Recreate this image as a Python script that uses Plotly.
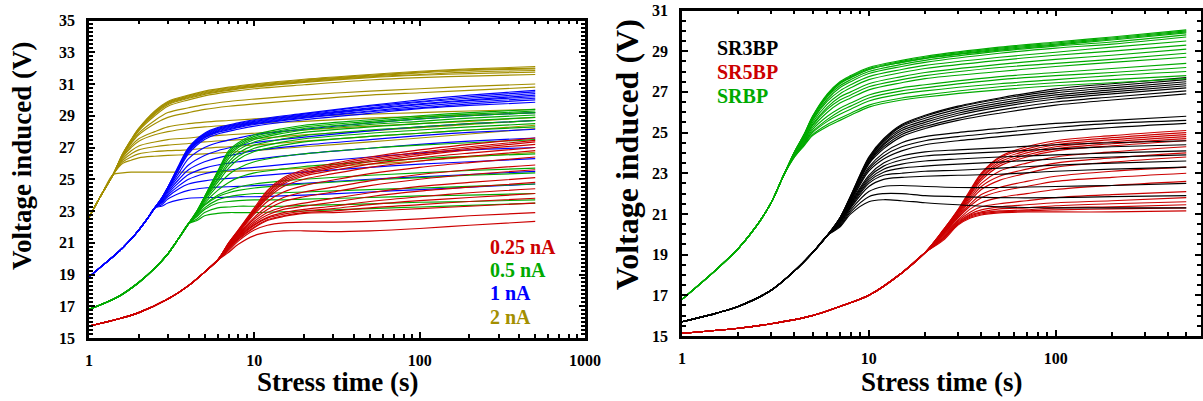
import plotly.graph_objects as go

# ---------------- data ----------------
# Left panel: stress current groups
L_RED_RISE_T = [1, 1.5, 2, 3, 4, 5, 6]
L_RED_RISE_V = [15.75, 16.2, 16.6, 17.45, 18.3, 19.15, 19.9]
L_RED_TAIL_T = [7, 8, 10, 12, 15, 20, 30, 50, 100, 200, 500]
L_RED_TAILS = [
    [21.0, 21.8, 23.2, 24.3, 25.1, 25.6, 26.0, 26.4, 26.85, 27.2, 27.6],
    [21.0, 21.8, 23.1, 24.2, 25.0, 25.5, 25.9, 26.3, 26.7, 27.05, 27.45],
    [21.0, 21.75, 23.05, 24.1, 24.9, 25.4, 25.8, 26.2, 26.6, 26.95, 27.35],
    [20.95, 21.7, 23.0, 24.0, 24.8, 25.3, 25.7, 26.1, 26.5, 26.85, 27.2],
    [20.95, 21.7, 22.95, 23.9, 24.7, 25.2, 25.55, 25.95, 26.35, 26.65, 27.0],
    [20.9, 21.65, 22.9, 23.8, 24.55, 25.0, 25.35, 25.75, 26.15, 26.45, 26.8],
    [20.9, 21.6, 22.8, 23.6, 24.2, 24.6, 24.95, 25.35, 25.75, 26.05, 26.4],
    [20.85, 21.55, 22.6, 23.3, 23.85, 24.2, 24.5, 24.9, 25.3, 25.6, 25.9],
    [20.8, 21.5, 22.5, 23.1, 23.6, 23.9, 24.2, 24.6, 25.0, 25.3, 25.6],
    [20.8, 21.45, 22.35, 22.9, 23.25, 23.5, 23.8, 24.15, 24.55, 24.8, 25.1],
    [20.75, 21.4, 22.25, 22.75, 23.1, 23.3, 23.55, 23.9, 24.25, 24.5, 24.8],
    [20.7, 21.35, 22.15, 22.6, 22.9, 23.1, 23.3, 23.6, 23.9, 24.15, 24.4],
    [20.7, 21.3, 22.1, 22.55, 22.8, 23.0, 23.15, 23.4, 23.65, 23.85, 24.1],
    [20.65, 21.25, 22.0, 22.45, 22.7, 22.9, 23.0, 23.2, 23.4, 23.6, 23.8],
    [20.6, 21.2, 21.95, 22.4, 22.65, 22.85, 22.9, 23.0, 23.15, 23.3, 23.5],
    [20.5, 21.1, 21.8, 22.1, 22.25, 22.3, 22.3, 22.35, 22.5, 22.7, 22.9],
    [20.4, 20.9, 21.45, 21.65, 21.75, 21.75, 21.7, 21.75, 21.9, 22.1, 22.35],
]

L_GRN_RISE_T = [1, 1.5, 2, 2.5, 3, 3.5, 4]
L_GRN_RISE_V = [16.8, 17.6, 18.5, 19.4, 20.3, 21.3, 22.2]
L_GRN_TAIL_T = [4.5, 5, 6, 7, 8, 10, 15, 20, 50, 100, 200, 500]
L_GRN_TAILS = [
    [23.0, 23.9, 25.5, 26.8, 27.3, 27.8, 28.2, 28.4, 28.75, 29.0, 29.2, 29.4],
    [23.0, 23.9, 25.45, 26.7, 27.2, 27.7, 28.1, 28.3, 28.65, 28.9, 29.1, 29.3],
    [23.0, 23.85, 25.4, 26.6, 27.1, 27.6, 28.0, 28.2, 28.55, 28.8, 29.0, 29.2],
    [23.0, 23.85, 25.3, 26.45, 27.0, 27.5, 27.9, 28.1, 28.45, 28.65, 28.85, 29.05],
    [22.95, 23.8, 25.2, 26.3, 26.85, 27.35, 27.75, 27.95, 28.3, 28.5, 28.7, 28.9],
    [22.95, 23.8, 25.05, 26.1, 26.65, 27.15, 27.55, 27.75, 28.1, 28.3, 28.5, 28.7],
    [22.95, 23.75, 24.95, 25.9, 26.45, 26.95, 27.35, 27.55, 27.9, 28.1, 28.3, 28.5],
    [22.9, 23.7, 24.8, 25.7, 26.25, 26.75, 27.15, 27.35, 27.7, 27.9, 28.1, 28.3],
    [22.9, 23.6, 24.6, 25.3, 25.7, 26.1, 26.45, 26.6, 26.95, 27.15, 27.3, 27.5],
    [22.85, 23.5, 24.3, 24.8, 25.1, 25.4, 25.65, 25.8, 26.1, 26.3, 26.45, 26.6],
    [22.8, 23.4, 24.0, 24.3, 24.5, 24.7, 24.9, 25.0, 25.25, 25.4, 25.55, 25.7],
    [22.8, 23.35, 23.9, 24.15, 24.3, 24.45, 24.6, 24.7, 24.95, 25.1, 25.25, 25.4],
    [22.7, 23.2, 23.7, 23.9, 24.0, 24.1, 24.15, 24.2, 24.35, 24.45, 24.55, 24.7],
    [22.65, 23.1, 23.5, 23.6, 23.65, 23.7, 23.7, 23.75, 23.85, 23.95, 24.0, 24.1],
    [22.5, 22.9, 23.2, 23.25, 23.3, 23.3, 23.3, 23.35, 23.45, 23.55, 23.6, 23.7],
    [22.4, 22.7, 22.85, 22.9, 22.9, 22.9, 22.95, 23.0, 23.15, 23.25, 23.35, 23.5],
]

L_BLU_RISE_T = [1, 1.25, 1.5, 1.75, 2, 2.25, 2.5]
L_BLU_RISE_V = [18.85, 19.7, 20.4, 21.1, 21.8, 22.5, 23.2]
L_BLU_TAIL_T = [2.75, 3, 3.5, 4, 5, 6, 8, 10, 20, 50, 100, 200, 500]
L_BLU_TAILS = [
    [23.8, 24.5, 25.9, 27.0, 27.9, 28.25, 28.55, 28.75, 29.15, 29.65, 30.0, 30.3, 30.6],
    [23.8, 24.5, 25.85, 26.95, 27.85, 28.2, 28.5, 28.7, 29.1, 29.6, 29.9, 30.2, 30.5],
    [23.8, 24.5, 25.8, 26.9, 27.8, 28.15, 28.45, 28.65, 29.05, 29.5, 29.85, 30.1, 30.4],
    [23.8, 24.5, 25.8, 26.85, 27.75, 28.1, 28.4, 28.6, 29.0, 29.45, 29.75, 30.0, 30.3],
    [23.8, 24.45, 25.75, 26.8, 27.7, 28.05, 28.35, 28.55, 28.95, 29.4, 29.7, 29.95, 30.2],
    [23.8, 24.45, 25.7, 26.75, 27.65, 28.0, 28.3, 28.5, 28.9, 29.3, 29.6, 29.85, 30.1],
    [23.75, 24.4, 25.65, 26.7, 27.6, 27.95, 28.25, 28.45, 28.85, 29.25, 29.5, 29.75, 30.0],
    [23.75, 24.4, 25.6, 26.6, 27.5, 27.85, 28.15, 28.35, 28.75, 29.15, 29.45, 29.65, 29.85],
    [23.7, 24.35, 25.4, 26.3, 27.0, 27.3, 27.6, 27.8, 28.15, 28.55, 28.8, 29.0, 29.2],
    [23.7, 24.3, 25.2, 25.9, 26.5, 26.8, 27.1, 27.3, 27.65, 28.05, 28.3, 28.5, 28.7],
    [23.65, 24.2, 25.0, 25.6, 26.1, 26.35, 26.6, 26.8, 27.15, 27.5, 27.75, 27.95, 28.15],
    [23.6, 24.1, 24.8, 25.3, 25.7, 25.9, 26.1, 26.25, 26.6, 26.95, 27.2, 27.4, 27.6],
    [23.55, 24.0, 24.6, 25.0, 25.35, 25.5, 25.65, 25.75, 26.05, 26.4, 26.65, 26.85, 27.0],
    [23.5, 23.9, 24.4, 24.7, 24.9, 25.0, 25.1, 25.2, 25.45, 25.75, 25.95, 26.1, 26.3],
    [23.4, 23.75, 24.1, 24.3, 24.45, 24.5, 24.55, 24.6, 24.75, 25.0, 25.15, 25.3, 25.5],
    [23.3, 23.5, 23.7, 23.8, 23.85, 23.85, 23.9, 23.9, 24.0, 24.2, 24.35, 24.5, 24.7],
]

L_OLV_RISE_T = [1, 1.2, 1.4]
L_OLV_RISE_V = [22.6, 24.1, 25.3]
L_OLV_TAIL_T = [1.6, 1.8, 2, 2.5, 3, 4, 5, 7, 10, 20, 50, 100, 200, 500]
L_OLV_TAILS = [
    [26.6, 27.5, 28.2, 29.3, 29.9, 30.3, 30.55, 30.8, 31.0, 31.3, 31.6, 31.8, 31.95, 32.1],
    [26.6, 27.5, 28.2, 29.25, 29.85, 30.25, 30.5, 30.75, 30.95, 31.25, 31.55, 31.75, 31.9, 32.0],
    [26.6, 27.45, 28.15, 29.2, 29.8, 30.2, 30.45, 30.7, 30.9, 31.2, 31.5, 31.7, 31.85, 31.95],
    [26.6, 27.45, 28.15, 29.15, 29.75, 30.15, 30.4, 30.65, 30.85, 31.15, 31.45, 31.6, 31.75, 31.85],
    [26.55, 27.4, 28.1, 29.1, 29.7, 30.1, 30.35, 30.6, 30.8, 31.1, 31.4, 31.55, 31.65, 31.75],
    [26.55, 27.4, 28.05, 29.0, 29.6, 30.0, 30.25, 30.5, 30.7, 30.95, 31.25, 31.4, 31.5, 31.6],
    [26.5, 27.3, 27.9, 28.7, 29.2, 29.5, 29.7, 29.9, 30.05, 30.3, 30.55, 30.7, 30.85, 31.0],
    [26.5, 27.25, 27.8, 28.5, 28.9, 29.2, 29.4, 29.6, 29.75, 30.0, 30.3, 30.45, 30.6, 30.8],
    [26.45, 27.1, 27.55, 28.0, 28.3, 28.5, 28.6, 28.7, 28.8, 28.95, 29.1, 29.2, 29.3, 29.4],
    [26.4, 27.0, 27.4, 27.8, 28.0, 28.2, 28.3, 28.4, 28.5, 28.65, 28.85, 28.95, 29.05, 29.2],
    [26.3, 26.8, 27.1, 27.35, 27.5, 27.6, 27.7, 27.8, 27.9, 28.1, 28.35, 28.5, 28.65, 28.9],
    [26.2, 26.6, 26.85, 27.05, 27.15, 27.25, 27.35, 27.45, 27.55, 27.8, 28.05, 28.25, 28.45, 28.7],
    [26.1, 26.4, 26.6, 26.75, 26.8, 26.85, 26.95, 27.05, 27.15, 27.4, 27.7, 27.9, 28.1, 28.4],
    [26.0, 26.2, 26.35, 26.45, 26.5, 26.55, 26.6, 26.7, 26.8, 27.05, 27.35, 27.6, 27.85, 28.2],
    [25.4, 25.45, 25.45, 25.45, 25.45, 25.45, 25.45, 25.5, 25.55, 25.7, 25.95, 26.15, 26.4, 26.7],
]

# Right panel: structures
R_GRN_RISE_T = [1, 1.5, 2, 2.5, 3, 3.5]
R_GRN_RISE_V = [16.8, 18.2, 19.3, 20.4, 21.55, 22.9]
R_GRN_TAIL_T = [4, 4.5, 5, 6, 7, 8, 10, 15, 20, 50, 100, 200, 500]
R_GRN_TAILS = [
    [24.05, 24.9, 25.8, 26.9, 27.5, 27.8, 28.2, 28.55, 28.75, 29.2, 29.45, 29.7, 30.05],
    [24.05, 24.9, 25.8, 26.85, 27.45, 27.75, 28.15, 28.5, 28.7, 29.15, 29.4, 29.65, 30.0],
    [24.05, 24.9, 25.75, 26.85, 27.45, 27.7, 28.1, 28.45, 28.65, 29.1, 29.35, 29.6, 29.95],
    [24.05, 24.85, 25.75, 26.8, 27.4, 27.7, 28.1, 28.45, 28.65, 29.05, 29.3, 29.55, 29.9],
    [24.0, 24.85, 25.7, 26.75, 27.3, 27.6, 28.0, 28.35, 28.55, 29.0, 29.25, 29.45, 29.8],
    [24.0, 24.8, 25.65, 26.65, 27.2, 27.5, 27.9, 28.25, 28.45, 28.9, 29.15, 29.35, 29.7],
    [24.0, 24.75, 25.6, 26.55, 27.05, 27.35, 27.75, 28.1, 28.3, 28.7, 28.95, 29.2, 29.5],
    [23.95, 24.7, 25.5, 26.4, 26.9, 27.2, 27.6, 27.95, 28.15, 28.55, 28.8, 29.0, 29.3],
    [23.95, 24.65, 25.4, 26.25, 26.75, 27.0, 27.4, 27.75, 27.95, 28.35, 28.6, 28.8, 29.1],
    [23.95, 24.6, 25.35, 26.15, 26.6, 26.85, 27.25, 27.6, 27.8, 28.2, 28.4, 28.6, 28.9],
    [23.9, 24.55, 25.25, 26.0, 26.45, 26.7, 27.1, 27.45, 27.65, 28.0, 28.25, 28.45, 28.7],
    [23.9, 24.5, 25.15, 25.8, 26.2, 26.45, 26.85, 27.2, 27.35, 27.75, 27.95, 28.15, 28.4],
    [23.85, 24.45, 25.05, 25.65, 26.05, 26.3, 26.7, 27.05, 27.2, 27.6, 27.8, 27.95, 28.2],
    [23.85, 24.45, 25.0, 25.55, 25.9, 26.15, 26.55, 26.9, 27.05, 27.4, 27.6, 27.8, 28.0],
    [23.8, 24.4, 24.9, 25.4, 25.7, 25.95, 26.35, 26.7, 26.85, 27.25, 27.45, 27.6, 27.8],
    [23.8, 24.35, 24.85, 25.3, 25.6, 25.85, 26.25, 26.6, 26.75, 27.1, 27.3, 27.45, 27.65],
]

R_BLK_RISE_T = [1, 1.5, 2, 3, 4, 5, 6]
R_BLK_RISE_V = [15.7, 16.1, 16.45, 17.25, 18.2, 19.1, 19.95]
R_BLK_TAIL_T = [7, 8, 10, 12, 15, 20, 30, 50, 100, 200, 500]
R_BLK_TAILS = [
    [20.8, 21.9, 23.8, 24.7, 25.4, 25.85, 26.3, 26.7, 27.15, 27.4, 27.7],
    [20.8, 21.9, 23.75, 24.65, 25.35, 25.8, 26.25, 26.65, 27.05, 27.3, 27.6],
    [20.8, 21.85, 23.7, 24.6, 25.3, 25.7, 26.15, 26.55, 26.95, 27.2, 27.5],
    [20.8, 21.85, 23.65, 24.55, 25.2, 25.6, 26.05, 26.45, 26.85, 27.1, 27.4],
    [20.8, 21.8, 23.6, 24.45, 25.1, 25.5, 25.95, 26.35, 26.75, 27.0, 27.3],
    [20.75, 21.8, 23.55, 24.4, 25.0, 25.4, 25.85, 26.25, 26.65, 26.9, 27.2],
    [20.75, 21.75, 23.5, 24.3, 24.9, 25.3, 25.7, 26.1, 26.5, 26.75, 27.05],
    [20.75, 21.75, 23.45, 24.2, 24.8, 25.2, 25.6, 25.95, 26.35, 26.6, 26.9],
    [20.7, 21.7, 23.3, 24.0, 24.5, 24.8, 25.0, 25.2, 25.45, 25.6, 25.8],
    [20.7, 21.65, 23.2, 23.85, 24.3, 24.6, 24.8, 25.0, 25.25, 25.45, 25.6],
    [20.7, 21.6, 23.1, 23.7, 24.1, 24.4, 24.6, 24.8, 25.05, 25.25, 25.45],
    [20.65, 21.55, 22.9, 23.5, 23.85, 24.05, 24.15, 24.25, 24.4, 24.5, 24.6],
    [20.65, 21.5, 22.8, 23.35, 23.65, 23.85, 23.95, 24.05, 24.2, 24.3, 24.4],
    [20.6, 21.45, 22.7, 23.2, 23.45, 23.6, 23.7, 23.8, 23.9, 24.0, 24.1],
    [20.6, 21.4, 22.6, 23.05, 23.25, 23.35, 23.45, 23.55, 23.7, 23.8, 23.9],
    [20.55, 21.35, 22.5, 22.9, 23.0, 23.1, 23.15, 23.25, 23.4, 23.5, 23.6],
    [20.5, 21.3, 22.35, 22.7, 22.8, 22.85, 22.9, 22.95, 23.1, 23.2, 23.3],
    [20.45, 21.2, 22.1, 22.35, 22.4, 22.35, 22.3, 22.3, 22.35, 22.4, 22.5],
    [20.4, 21.1, 21.85, 22.0, 22.0, 21.9, 21.85, 21.8, 21.8, 21.85, 21.9],
    [20.35, 21.0, 21.6, 21.7, 21.65, 21.55, 21.45, 21.35, 21.3, 21.3, 21.3],
]

R_RED_RISE_T = [1, 2, 3, 5, 7, 10, 15, 20]
R_RED_RISE_V = [15.13, 15.38, 15.6, 16.0, 16.45, 17.0, 18.1, 19.1]
R_RED_TAIL_T = [25, 30, 35, 40, 50, 70, 100, 200, 500]
R_RED_TAILS = [
    [20.2, 21.2, 22.2, 23.0, 23.8, 24.3, 24.6, 24.85, 25.1],
    [20.2, 21.2, 22.15, 22.95, 23.75, 24.2, 24.5, 24.75, 25.0],
    [20.2, 21.15, 22.1, 22.9, 23.65, 24.1, 24.4, 24.65, 24.9],
    [20.15, 21.1, 22.05, 22.8, 23.55, 24.0, 24.3, 24.55, 24.8],
    [20.15, 21.1, 22.0, 22.75, 23.45, 23.9, 24.2, 24.45, 24.7],
    [20.1, 21.05, 21.95, 22.65, 23.35, 23.8, 24.1, 24.35, 24.6],
    [20.1, 21.0, 21.85, 22.5, 23.1, 23.5, 23.8, 24.05, 24.3],
    [20.05, 20.95, 21.75, 22.35, 22.85, 23.2, 23.5, 23.75, 24.0],
    [20.05, 20.9, 21.65, 22.2, 22.65, 23.0, 23.3, 23.55, 23.8],
    [20.0, 20.85, 21.5, 21.95, 22.3, 22.6, 22.85, 23.1, 23.3],
    [20.0, 20.8, 21.4, 21.8, 22.1, 22.35, 22.6, 22.8, 23.0],
    [19.95, 20.7, 21.25, 21.55, 21.8, 22.0, 22.2, 22.4, 22.6],
    [19.9, 20.65, 21.1, 21.35, 21.5, 21.65, 21.8, 21.95, 22.1],
    [19.85, 20.6, 21.0, 21.2, 21.35, 21.45, 21.55, 21.65, 21.8],
    [19.8, 20.55, 20.95, 21.1, 21.25, 21.3, 21.4, 21.5, 21.6],
    [19.8, 20.5, 20.9, 21.05, 21.15, 21.2, 21.3, 21.35, 21.45],
    [19.75, 20.5, 20.85, 21.0, 21.1, 21.15, 21.2, 21.25, 21.3],
    [19.7, 20.45, 20.8, 20.95, 21.05, 21.1, 21.1, 21.1, 21.15],
]

LEFT_LABELS = ["0.25 nA", "0.5 nA", "1 nA", "2 nA"]
RIGHT_LABELS = ["SR3BP", "SR5BP", "SRBP"]
X_TITLE = "Stress time (s)"
Y_TITLE = "Voltage induced (V)"

# ---------------- styles ----------------
RED = "#CC0000"
GREEN = "#00AA00"
BLUE = "#0000FF"
OLIVE = "#A38F00"
BLACK = "#000000"
FONT = "Liberation Serif, Times New Roman, serif"
LW = 1.15

fig = go.Figure()


def add_group(rise_t, rise_v, tail_t, tails, color, xa, ya):
    for tail in tails:
        fig.add_trace(go.Scatter(
            x=rise_t + tail_t, y=rise_v + tail, mode="lines",
            line=dict(color=color, width=LW, shape="spline", smoothing=0.9),
            xaxis=xa, yaxis=ya, showlegend=False, hoverinfo="skip"))


add_group(L_OLV_RISE_T, L_OLV_RISE_V, L_OLV_TAIL_T, L_OLV_TAILS, OLIVE, "x", "y")
add_group(L_BLU_RISE_T, L_BLU_RISE_V, L_BLU_TAIL_T, L_BLU_TAILS, BLUE, "x", "y")
add_group(L_GRN_RISE_T, L_GRN_RISE_V, L_GRN_TAIL_T, L_GRN_TAILS, GREEN, "x", "y")
add_group(L_RED_RISE_T, L_RED_RISE_V, L_RED_TAIL_T, L_RED_TAILS, RED, "x", "y")

add_group(R_RED_RISE_T, R_RED_RISE_V, R_RED_TAIL_T, R_RED_TAILS, RED, "x2", "y2")
add_group(R_BLK_RISE_T, R_BLK_RISE_V, R_BLK_TAIL_T, R_BLK_TAILS, BLACK, "x2", "y2")
add_group(R_GRN_RISE_T, R_GRN_RISE_V, R_GRN_TAIL_T, R_GRN_TAILS, GREEN, "x2", "y2")

W, H = 1203, 401
tickfont = dict(family=FONT, size=16, color="black", weight="bold")


def xax(domain, rng, anchor):
    return dict(domain=domain, type="log", range=rng, tickmode="linear", tick0=0, dtick=1,
                anchor=anchor, automargin=False,
                ticks="inside", ticklen=6, tickwidth=2, tickcolor="black",
                minor=dict(ticks="inside", ticklen=4, tickwidth=1.5, tickcolor="black", showgrid=False),
                showline=True, linewidth=2.5, linecolor="black", mirror="allticks",
                showgrid=False, zeroline=False, tickfont=tickfont, ticklabelstandoff=6,
                fixedrange=True)


def yax(domain, rng, anchor, minor_dt):
    return dict(domain=domain, range=rng, tickmode="linear", tick0=15, dtick=2, anchor=anchor,
                automargin=False,
                ticks="inside", ticklen=6, tickwidth=2, tickcolor="black",
                minor=dict(ticks="inside", ticklen=4, tickwidth=1.5, tickcolor="black",
                           dtick=minor_dt, tick0=15, showgrid=False),
                showline=True, linewidth=2.5, linecolor="black", mirror="allticks",
                showgrid=False, zeroline=False, tickfont=tickfont, ticklabelstandoff=8,
                fixedrange=True)


fig.update_layout(
    width=W, height=H, margin=dict(l=0, r=0, t=0, b=0, autoexpand=False),
    paper_bgcolor="white", plot_bgcolor="white", showlegend=False,
    xaxis=xax([89 / W, 585 / W], [0, 3], "y"),
    yaxis=yax([(H - 338) / H, (H - 20.5) / H], [15, 35], "x", 0.25),
    xaxis2=xax([682 / W, 1201 / W], [0, 2.778], "y2"),
    yaxis2=yax([(H - 336) / H, (H - 10.5) / H], [15, 31], "x2", 0.5),
)


def bold(s):
    return "<b>" + s + "</b>"


titlefont = dict(family=FONT, size=27, color="black")
ann = []
# axis titles
ann.append(dict(text=bold(X_TITLE), x=(89 + 585) / 2 / W, y=1 - 382 / H, xref="paper", yref="paper",
                showarrow=False, font=titlefont, xanchor="center", yanchor="middle"))
ann.append(dict(text=bold(X_TITLE), x=(682 + 1201) / 2 / W, y=1 - 382 / H, xref="paper", yref="paper",
                showarrow=False, font=titlefont, xanchor="center", yanchor="middle"))
ann.append(dict(text=bold(Y_TITLE), x=22 / W, y=1 - 156 / H, xref="paper", yref="paper", textangle=-90,
                showarrow=False, font=titlefont, xanchor="center", yanchor="middle"))
ann.append(dict(text=bold(Y_TITLE), x=627 / W, y=1 - 155 / H, xref="paper", yref="paper", textangle=-90,
                showarrow=False, font=dict(family=FONT, size=32, color="black"),
                xanchor="center", yanchor="middle"))
# group labels
legfont = 20
for lbl, col, yy in zip(LEFT_LABELS, [RED, GREEN, BLUE, OLIVE], [247, 270, 293, 316.5]):
    ann.append(dict(text=bold(lbl), x=488 / W, y=1 - yy / H, xref="paper", yref="paper", showarrow=False,
                    font=dict(family=FONT, size=legfont, color=col),
                    xanchor="left", yanchor="middle"))
for lbl, col, yy in zip(RIGHT_LABELS, [BLACK, RED, GREEN], [48, 72, 96]):
    ann.append(dict(text=bold(lbl), x=715 / W, y=1 - yy / H, xref="paper", yref="paper", showarrow=False,
                    font=dict(family=FONT, size=legfont, color=col),
                    xanchor="left", yanchor="middle"))
fig.update_layout(annotations=ann)

fig.write_html("out.html", config={"displayModeBar": False},
               post_script="document.body.style.margin='0px';document.body.style.overflow='hidden';")
